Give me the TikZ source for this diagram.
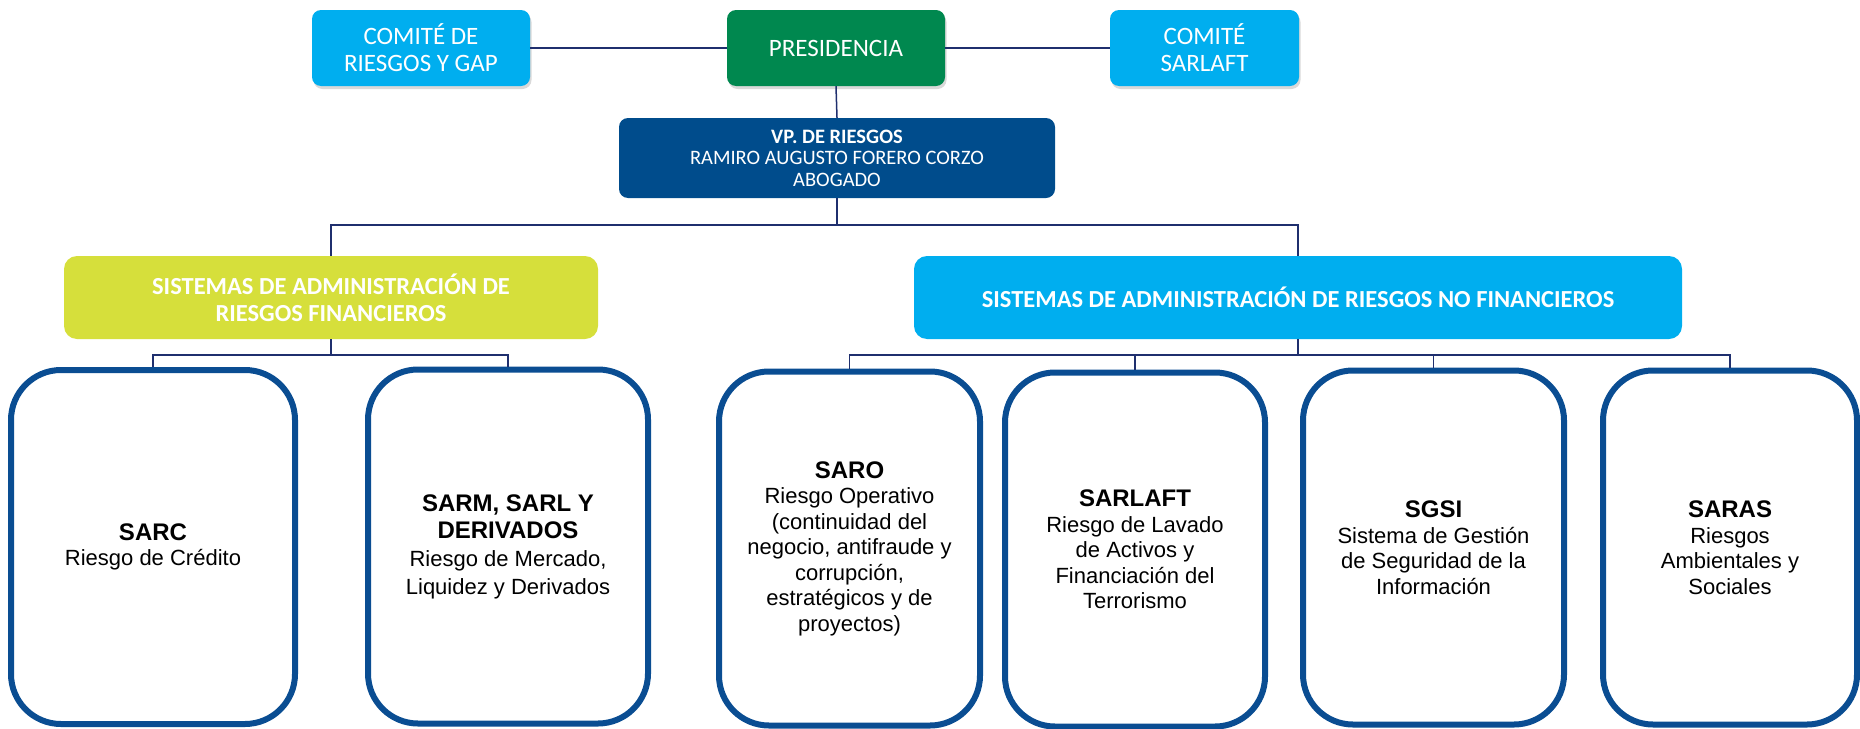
\documentclass[tikz,border=0pt]{standalone}
\usepackage{fontspec}
\setmainfont{Liberation Sans}
\newfontfamily\cfont{Carlito}
\usetikzlibrary{shadows}
\definecolor{cyanbox}{HTML}{00AEEF}
\definecolor{greenbox}{HTML}{00884F}
\definecolor{vpblue}{HTML}{004C8C}
\definecolor{limebox}{HTML}{D6DF3B}
\definecolor{sysborder}{HTML}{0A4D92}
\definecolor{conn}{HTML}{1F2F6E}
\newcommand{\hd}[1]{{\bfseries\fontsize{24}{29}\selectfont #1}}
\begin{document}
\begin{tikzpicture}[x=1pt,y=-1pt,
  topbox/.style={rounded corners=9pt, text=white, align=center, inner sep=0pt,
    font=\cfont\fontsize{25}{27}\selectfont, minimum height=76pt,
    drop shadow={opacity=0.3, shadow xshift=1.5pt, shadow yshift=-3pt}},
  vpbox/.style={rounded corners=9pt, fill=vpblue, text=white, align=center, inner sep=0pt,
    font=\cfont\fontsize{20.5}{21.5}\selectfont, minimum width=436pt, minimum height=80pt},
  catbox/.style={rounded corners=13pt, text=white, align=center, inner sep=0pt,
    font=\cfont\bfseries\fontsize{24.5}{27}\selectfont, minimum height=83pt},
  sysbox/.style={draw=sysborder, line width=6pt, rounded corners=50pt, fill=white,
    align=center, inner sep=0pt, minimum height=354pt, font=\fontsize{22}{25.5}\selectfont},
  link/.style={draw=conn, line width=1.5pt}
]
\useasboundingbox (0,0) rectangle (1860,728);

% top row
\node[topbox, fill=cyanbox, minimum width=218pt] (gap) at (421,48) {COMITÉ DE\\RIESGOS Y GAP};
\node[topbox, fill=greenbox, minimum width=218pt] (pres) at (836,48) {PRESIDENCIA};
\node[topbox, fill=cyanbox, minimum width=189pt] (csar) at (1204.5,48) {COMITÉ\\SARLAFT};
\node[vpbox] (vp) at (837,158) {{\bfseries VP. DE RIESGOS}\\RAMIRO AUGUSTO FORERO CORZO\\ABOGADO};

% categories
\node[catbox, fill=limebox, minimum width=534pt] (fin) at (331,297.5) {SISTEMAS DE ADMINISTRACIÓN DE\\RIESGOS FINANCIEROS};
\node[catbox, fill=cyanbox, minimum width=768pt] (nofin) at (1298,297.5) {SISTEMAS DE ADMINISTRACIÓN DE RIESGOS NO FINANCIEROS};

% systems
\node[sysbox, minimum width=284pt] (sarc) at (153,547) {\hd{SARC}\\Riesgo de Crédito};
\node[sysbox, minimum width=280pt, font=\fontsize{22}{27.7}\selectfont] (sarm) at (508,546.5) {\hd{SARM, SARL Y}\\\hd{DERIVADOS}\\Riesgo de Mercado,\\Liquidez y Derivados};
\node[sysbox, minimum width=261pt] (saro) at (849.5,548.5) {\hd{SARO}\\Riesgo Operativo\\(continuidad del\\negocio, antifraude y\\corrupción,\\estratégicos y de\\proyectos)};
\node[sysbox, minimum width=260pt] (sarl) at (1135,549.5) {\hd{SARLAFT}\\Riesgo de Lavado\\de Activos y\\Financiación del\\Terrorismo};
\node[sysbox, minimum width=261pt] (sgsi) at (1433.5,547.5) {\hd{SGSI}\\Sistema de Gestión\\de Seguridad de la\\Información};
\node[sysbox, minimum width=254pt] (saras) at (1730,547.5) {\hd{SARAS}\\Riesgos\\Ambientales y\\Sociales};

% connectors
\coordinate (b1) at (837,225);
\coordinate (b2) at (331,355);
\coordinate (b3) at (1298,355);
\draw[link] (gap.east) -- (pres.west);
\draw[link] (pres.east) -- (csar.west);
\draw[link] (pres.south) -- (vp.north);
\draw[link] (vp.south) -- (b1);
\draw[link] (fin.north) |- (b1) -| (nofin.north);
\draw[link] (fin.south) -- (b2);
\draw[link] (sarc.north) |- (b2) -| (sarm.north);
\draw[link] (nofin.south) -- (b3);
\draw[link] (saro.north) |- (b3) -| (saras.north);
\draw[link] (sarl.north) -- (sarl.north |- b3);
\draw[link] (sgsi.north) -- (sgsi.north |- b3);
\end{tikzpicture}
\end{document}
